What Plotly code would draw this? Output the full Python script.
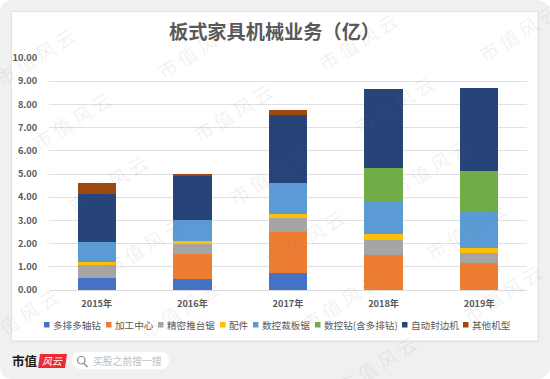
import plotly.graph_objects as go

years = ["2015年", "2016年", "2017年", "2018年", "2019年"]
duopai = [0.52, 0.46, 0.73, 0, 0]
jiagong = [0, 1.11, 1.77, 1.51, 1.15]
jingmi = [0.56, 0.43, 0.60, 0.66, 0.44]
peijian = [0.11, 0.11, 0.17, 0.23, 0.22]
caiban = [0.88, 0.91, 1.33, 1.42, 1.57]
shukongzuan = [0, 0, 0, 1.43, 1.75]
fengbian = [2.05, 1.92, 2.96, 3.41, 3.58]
qita = [0.49, 0.06, 0.19, 0, 0]

names = ["多排多轴钻", "加工中心", "精密推台锯", "配件", "数控裁板锯", "数控钻(含多排钻)", "自动封边机", "其他机型"]
series = [duopai, jiagong, jingmi, peijian, caiban, shukongzuan, fengbian, qita]
colors = ["#4472C4", "#ED7D31", "#A5A5A5", "#FFC000", "#5B9BD5", "#70AD47", "#264478", "#9E480E"]
y_ticks = [0, 1, 2, 3, 4, 5, 6, 7, 8, 9, 10]
title = "板式家具机械业务（亿）"

W, H = 550, 379
L, R, T, B = 49, 527, 58, 290
CJK = "Noto Sans CJK SC, Noto Sans, sans-serif"


def px(x):
    return (x - L) / (R - L)


def py(y):
    return (B - y) / (B - T)


fig = go.Figure()
for name, vals, col in zip(names, series, colors):
    fig.add_trace(go.Bar(x=years, y=vals, name=name, marker=dict(color=col, line=dict(width=0)), showlegend=False))

shapes = []


def rrect(x0, y0, x1, y1, r, fill):
    d = (f"M {px(x0+r)} {py(y0)} L {px(x1-r)} {py(y0)} Q {px(x1)} {py(y0)} {px(x1)} {py(y0+r)} "
         f"L {px(x1)} {py(y1-r)} Q {px(x1)} {py(y1)} {px(x1-r)} {py(y1)} "
         f"L {px(x0+r)} {py(y1)} Q {px(x0)} {py(y1)} {px(x0)} {py(y1-r)} "
         f"L {px(x0)} {py(y0+r)} Q {px(x0)} {py(y0)} {px(x0+r)} {py(y0)} Z")
    shapes.append(dict(type="path", xref="paper", yref="paper", path=d, fillcolor=fill,
                       line=dict(width=0), layer="below"))


rrect(0, 0, 550, 379, 14, "#F0F0F0")
shapes.append(dict(type="rect", xref="paper", yref="paper", x0=px(11), x1=px(539), y0=py(11), y1=py(342),
                   fillcolor="#E2E2E2", line=dict(width=0), layer="below"))
shapes.append(dict(type="rect", xref="paper", yref="paper", x0=px(12), x1=px(537.5), y0=py(12), y1=py(340.5),
                   fillcolor="#FFFFFF", line=dict(width=0), layer="below"))

# search pill + icon + logo
rrect(72, 352, 169, 369, 8.5, "#FFFFFF")
shapes.append(dict(type="circle", xref="paper", yref="paper", x0=px(77.5), x1=px(85), y0=py(356.5), y1=py(364),
                   line=dict(color="#8A8A8A", width=1.2), fillcolor="rgba(0,0,0,0)", layer="below"))
shapes.append(dict(type="line", xref="paper", yref="paper", x0=px(84), x1=px(87.5), y0=py(363.5), y1=py(367),
                   line=dict(color="#8A8A8A", width=1.4), layer="below"))
shapes.append(dict(type="path", xref="paper", yref="paper",
                   path=f"M {px(40)} {py(354)} L {px(67)} {py(354)} L {px(65)} {py(368)} L {px(38)} {py(368)} Z",
                   fillcolor="#EE2A33", line=dict(width=0), layer="below"))

annotations = []


def label(x, y, text, size, color, anchor="center", angle=0, family=CJK):
    annotations.append(dict(xref="paper", yref="paper", x=px(x), y=py(y), text=text, showarrow=False,
                            xanchor=anchor, yanchor="middle", textangle=angle,
                            font=dict(size=size, color=color, family=family)))


label(166.5, 31, f"<b>{title}</b>", 19.2, "#595959", "left")
label(9.5, 361, "<b>市值</b>", 12.5, "#1A1A1A", "left")
label(52.5, 361, "<i>风云</i>", 10, "#FFFFFF")
label(91, 361, "买股之前搜一搜", 9.8, "#BDBDBD", "left")

# legend
swatch_x = [44, 106, 158, 220, 253, 315, 402, 463]
for sx, name, col in zip(swatch_x, names, colors):
    shapes.append(dict(type="rect", xref="paper", yref="paper", x0=px(sx), x1=px(sx + 5.5), y0=py(322), y1=py(327.5),
                       fillcolor=col, line=dict(width=0)))
    label(sx + 7, 324.5, name, 9.6, "#595959", "left")

# watermark
for j in range(-1, 6):
    for i in range(-1, 5):
        wx = 35 + i * 161 + j * 36
        wy = 57 - i * 8 + j * 63
        if 15 < wx < 535 and 15 < wy < 365:
            label(wx, wy, "市 值 风 云", 19, "rgba(120,120,120,0.11)", angle=-32)

fig.update_layout(
    width=W, height=H, barmode="stack", bargap=0.6,
    paper_bgcolor="#FFFFFF", plot_bgcolor="rgba(0,0,0,0)",
    margin=dict(l=L, r=W - R, t=T, b=H - B, pad=0, autoexpand=False),
    font=dict(family=CJK, color="#595959", size=10),
    shapes=shapes, annotations=annotations, showlegend=False,
    xaxis=dict(showgrid=False, showline=True, linecolor="#DCDCDC", linewidth=1.2, ticks="outside", ticklen=5,
               tickcolor="rgba(0,0,0,0)", tickfont=dict(size=9.2, color="#595959", weight=600)),
    yaxis=dict(range=[0, 10], tickvals=y_ticks, tickformat=".2f", gridcolor="#E0E0E0", gridwidth=1.3, zeroline=False,
               ticks="outside", ticklen=9, tickcolor="rgba(0,0,0,0)", tickfont=dict(size=9.2, color="#595959", weight=600)),
)
fig.write_html("out.html", config=dict(displayModeBar=False),
               post_script="document.body.style.margin='0';document.documentElement.style.overflow='hidden';")
